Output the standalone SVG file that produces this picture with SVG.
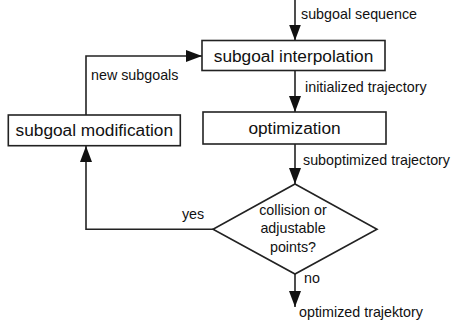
<svg xmlns="http://www.w3.org/2000/svg" width="454" height="320" viewBox="0 0 454 320">
<defs>
<style>
.box{fill:#fff;stroke:#222;stroke-width:1.6}
.t{font-family:"Liberation Sans",Arial,sans-serif;font-size:17.3px;fill:#111;text-anchor:middle}
.l{font-family:"Liberation Sans",Arial,sans-serif;font-size:14.3px;fill:#111}
.c{fill:none;stroke:#222;stroke-width:1.6}
</style>
<marker id="ah" markerUnits="userSpaceOnUse" markerWidth="16" markerHeight="12" refX="16" refY="6" orient="auto">
<path d="M0,0 L16,6 L0,12 z" fill="#111"/>
</marker>
</defs>
<rect width="454" height="320" fill="#fff"/>
<g id="connectors">
<path class="c" d="M295,0 V40.5" marker-end="url(#ah)"/>
<path class="c" d="M295,70.5 V112" marker-end="url(#ah)"/>
<path class="c" d="M295,144 V184" marker-end="url(#ah)"/>
<path class="c" d="M295,274 V307" marker-end="url(#ah)"/>
<path class="c" d="M213,229.3 H86 V146" marker-end="url(#ah)"/>
<path class="c" d="M86,115 V56 H202" marker-end="url(#ah)"/>
<text class="l" x="301" y="19">subgoal sequence</text>
<text class="l" x="305" y="92">initialized trajectory</text>
<text class="l" x="303" y="165">suboptimized trajectory</text>
<text class="l" x="304" y="283">no</text>
<text class="l" x="299" y="317">optimized trajektory</text>
<text class="l" x="193" y="219" text-anchor="middle">yes</text>
<text class="l" x="91" y="80">new subgoals</text>
</g>
<g id="interpolation">
<rect class="box" x="202" y="40.5" width="183" height="30"/>
<text class="t" x="293.5" y="61.5">subgoal interpolation</text>
</g>
<g id="optimization">
<rect class="box" x="203" y="112" width="183" height="32"/>
<text class="t" x="294.5" y="134">optimization</text>
</g>
<g id="modification">
<rect class="box" x="8.3" y="115" width="172" height="30.7"/>
<text class="t" x="94.3" y="136">subgoal modification</text>
</g>
<g id="decision">
<path class="box" d="M295,184 L377,229.3 L295,274 L213,229.3 z"/>
<text class="l" x="293" y="215" text-anchor="middle">collision or</text>
<text class="l" x="293" y="233" text-anchor="middle">adjustable</text>
<text class="l" x="293" y="251.5" text-anchor="middle">points?</text>
</g>
</svg>
